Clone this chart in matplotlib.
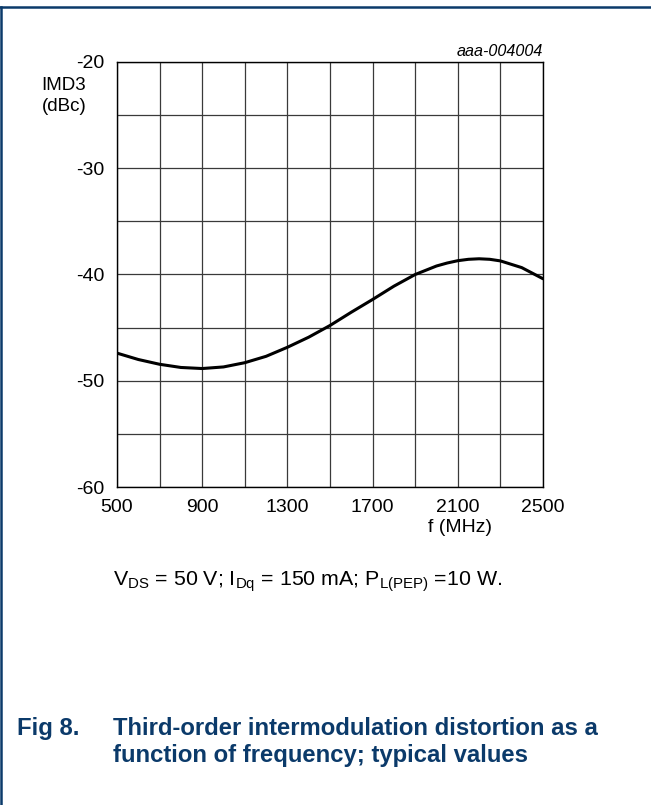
import matplotlib
matplotlib.use('Agg')
from matplotlib import pyplot as plt
from matplotlib.lines import Line2D
import numpy as np

plt.rcParams['font.family'] = ['Liberation Sans', 'DejaVu Sans']
plt.rcParams['mathtext.fontset'] = 'custom'
plt.rcParams['mathtext.rm'] = 'Liberation Sans'
plt.rcParams['mathtext.default'] = 'regular'
plt.rcParams['axes.unicode_minus'] = False

# data
freq = [500, 600, 700, 800, 900, 1000, 1100, 1200, 1300, 1400, 1500,
        1600, 1700, 1800, 1900, 2000, 2050, 2100, 2150, 2200, 2250, 2300, 2400, 2500]
imd3 = [-47.4, -48.0, -48.45, -48.75, -48.85, -48.7, -48.3, -47.7, -46.85, -45.9, -44.8,
        -43.55, -42.35, -41.1, -40.0, -39.2, -38.92, -38.7, -38.57, -38.52, -38.57, -38.72, -39.35, -40.4]
xticks = [500, 900, 1300, 1700, 2100, 2500]
yticks = [-60, -50, -40, -30, -20]

navy = '#0b3a6a'

fig = plt.figure(figsize=(6.51, 8.05), dpi=100)
ax = fig.add_axes([117/651, 1 - 487/805, 426/651, 425/805])

ax.plot(freq, imd3, color='black', lw=2.2, solid_capstyle='round', solid_joinstyle='round')
ax.set_xlim(500, 2500)
ax.set_ylim(-60, -20)
ax.set_xticks(xticks)
ax.set_yticks(yticks)
ax.set_xticks(np.arange(500, 2501, 200), minor=True)
ax.set_yticks(np.arange(-60, -19, 5), minor=True)
ax.grid(True, which='both', color='#3a3a3a', lw=0.9)
ax.tick_params(which='both', length=0)
ax.tick_params(axis='x', pad=9, labelsize=14)
ax.tick_params(axis='y', pad=9, labelsize=14)
for s in ax.spines.values():
    s.set_color('black')
    s.set_linewidth(1)

fig.text(64/651, 1 - 96/805, 'IMD3\n(dBc)', ha='center', va='center', fontsize=13.5, linespacing=1.25)
fig.text(460/651, 1 - 527/805, 'f (MHz)', ha='center', va='center', fontsize=14)
fig.text(543/651, 1 - 51/805, 'aaa-004004', ha='right', va='center', fontsize=11.6, style='italic')

fig.text(308/651, 1 - 582/805,
         r'V$_{DS}$ = 50 V; I$_{Dq}$ = 150 mA; P$_{L(PEP)}$ =10 W.',
         ha='center', va='center', fontsize=15.4)

fig.text(17/651, 1 - 728/805, 'Fig 8.', ha='left', va='center', fontsize=17.2,
         fontweight='bold', color=navy)
fig.text(113/651, 1 - 742/805,
         'Third-order intermodulation distortion as a\nfunction of frequency; typical values',
         ha='left', va='center', fontsize=17.2, fontweight='bold', color=navy, linespacing=1.17)

# page frame
fig.add_artist(Line2D([0, 1], [1 - 7.5/805, 1 - 7.5/805], color=navy, lw=1.8, transform=fig.transFigure))
fig.add_artist(Line2D([0.7/651, 0.7/651], [0, 1 - 7.5/805], color=navy, lw=1.8, transform=fig.transFigure))

fig.savefig('out.png', dpi=100)
